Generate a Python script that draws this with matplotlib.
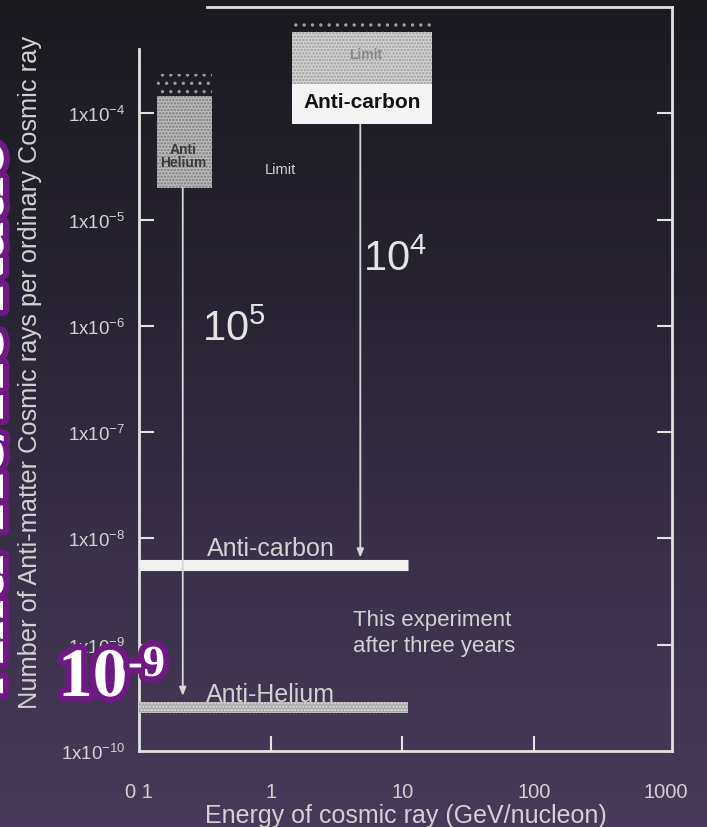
import matplotlib.pyplot as plt
import matplotlib.patheffects as pe
from matplotlib.colors import LinearSegmentedColormap
from matplotlib.ticker import NullLocator
import numpy as np

plt.rcParams['font.family'] = ['Liberation Sans', 'DejaVu Sans']
plt.rcParams['mathtext.fontset'] = 'custom'
plt.rcParams['mathtext.rm'] = 'Liberation Sans'
plt.rcParams['mathtext.it'] = 'Liberation Sans:italic'
plt.rcParams['mathtext.bf'] = 'Liberation Sans:bold'
plt.rcParams['hatch.linewidth'] = 1.2

# axis ticks
x_ticks = [0.1, 1, 10, 100, 1000]
x_tick_labels = ['0 1', '1', '10', '100', '1000']
y_ticks = [1e-10, 1e-9, 1e-8, 1e-7, 1e-6, 1e-5, 1e-4]
y_tick_labels = [r'1x10$^{-10}$', r'1x10$^{-9}$', r'1x10$^{-8}$', r'1x10$^{-7}$',
                 r'1x10$^{-6}$', r'1x10$^{-5}$', r'1x10$^{-4}$']

# this experiment after three years (energy span and sensitivity)
energy_span = [0.1, 11]
carbon_sens = 5.6e-9
helium_band = [2.3e-10, 2.9e-10]

# previous limits
helium_limit_x = [0.137, 0.36]
helium_limit_y = [2.0e-5, 1.45e-4]
carbon_limit_x = [1.46, 16.7]
carbon_limit_y = [8.0e-5, 1.87e-4, 5.8e-4]   # bottom, split white/grey, top

# improvement arrows: x, start, end
helium_arrow = [0.215, 2.0e-5, 3.3e-10]
carbon_arrow = [4.8, 8.0e-5, 6.6e-9]

line_col = '#e2e2e2'
text_col = '#d2d2d2'

fig = plt.figure(figsize=(7.07, 8.28), dpi=100)

# slide background
bg = fig.add_axes([0, 0, 1, 1], zorder=-10)
grad = np.linspace(0, 1, 256).reshape(-1, 1)
cmap = LinearSegmentedColormap.from_list('bg', ['#1b1a1f', '#262230', '#3a3048', '#483a58'])
bg.imshow(grad, aspect='auto', cmap=cmap, extent=[0, 1, 0, 1], origin='upper')
bg.axis('off')

ax = fig.add_axes([139 / 707, 76 / 828, 533 / 707, 744 / 828])
ax.set_facecolor('none')
ax.set_xscale('log')
ax.set_yscale('log')
ax.set_xlim(0.1, 1120)
ax.set_ylim(1e-10, 1e-3)

for s in ax.spines.values():
    s.set_color(line_col)
    s.set_linewidth(2)
ax.spines['left'].set_bounds(1e-10, 4e-4)
ax.spines['top'].set_bounds(0.33, 1120)

ax.set_xticks(x_ticks)
ax.set_xticklabels(x_tick_labels)
ax.set_yticks(y_ticks)
ax.set_yticklabels(y_tick_labels)
ax.xaxis.set_minor_locator(NullLocator())
ax.yaxis.set_minor_locator(NullLocator())
ax.tick_params(direction='in', length=11, width=1.5, color=line_col, labelcolor=text_col)
ax.tick_params(axis='y', right=True, pad=10, labelsize=13.5)
ax.tick_params(axis='x', pad=22, labelsize=14.5)
for t in (ax.xaxis.get_major_ticks()[0], ax.xaxis.get_major_ticks()[-1]):
    t.tick1line.set_visible(False)
ax.yaxis.get_major_ticks()[0].tick1line.set_visible(False)
ax.yaxis.get_major_ticks()[0].tick2line.set_visible(False)

# sensitivity of this experiment
ax.plot(energy_span, [carbon_sens, carbon_sens], color='#f2f2f2', lw=8,
        solid_capstyle='butt', zorder=3)
ax.fill_between(energy_span, helium_band[0], helium_band[1], facecolor='#a6a6a6',
                edgecolor='#e0e0e0', hatch='.....', linewidth=0, zorder=3)

# previous limit boxes
ax.fill_between(helium_limit_x, helium_limit_y[0], helium_limit_y[1], facecolor='#bcbcbc',
                edgecolor='#7a7a7a', hatch='.....', linewidth=0, zorder=3)
ax.fill_between(helium_limit_x, helium_limit_y[1], helium_limit_y[1] * 1.6, facecolor='none',
                edgecolor='#9a9a9a', hatch='. .', linewidth=0, zorder=3)
ax.fill_between(carbon_limit_x, carbon_limit_y[0], carbon_limit_y[1], facecolor='#f4f4f4',
                linewidth=0, zorder=3)
ax.fill_between(carbon_limit_x, carbon_limit_y[1], carbon_limit_y[2], facecolor='#d2d2d2',
                edgecolor='#9c9c9c', hatch='.....', linewidth=0, zorder=3)
ax.fill_between(carbon_limit_x, carbon_limit_y[2], carbon_limit_y[2] * 1.25, facecolor='none',
                edgecolor='#a0a0a0', hatch='. .', linewidth=0, zorder=3)

for xa, y0, y1 in (helium_arrow, carbon_arrow):
    ax.annotate('', xy=(xa, y1), xytext=(xa, y0),
                arrowprops=dict(arrowstyle='-|>,head_length=0.5,head_width=0.2',
                                color='#d6d6d6', lw=1.3, shrinkA=0, shrinkB=0), zorder=4)

# texts inside the plot
ax.text(0.215, 4.0e-5, 'Anti\nHelium', ha='center', va='center', fontsize=10,
        fontweight='bold', color='#3a3a3a', linespacing=0.95, zorder=5)
ax.text(4.95, 1.3e-4, 'Anti-carbon', ha='center', va='center', fontsize=15,
        fontweight='bold', color='#111111', zorder=5)
ax.text(5.3, 3.6e-4, 'Limit', ha='center', va='center', fontsize=10,
        fontweight='bold', color='#8a8a8a', zorder=5)
ax.text(1.18, 2.97e-5, 'Limit', ha='center', va='center', fontsize=10.5, color=text_col)
ax.text(0.3, 9.4e-7, r'10$^{5}$', ha='left', va='center', fontsize=30, color='#e4e4e4')
ax.text(5.0, 4.3e-6, r'10$^{4}$', ha='left', va='center', fontsize=30, color='#e4e4e4')
ax.text(1.0, 8.05e-9, 'Anti-carbon', ha='center', va='center', fontsize=18, color=text_col)
ax.text(1.0, 3.45e-10, 'Anti-Helium', ha='center', va='center', fontsize=18, color=text_col)
ax.text(4.24, 1.3e-9, 'This experiment\nafter three years', ha='left', va='center',
        fontsize=16, color=text_col, linespacing=1.3)

ax.set_xlabel('Energy of cosmic ray (GeV/nucleon)', fontsize=18, color=text_col, labelpad=2)
fig.text(30 / 707, 1 - 372 / 828, 'Number of Anti-matter Cosmic rays per ordinary Cosmic ray',
         rotation=90, ha='center', va='center', fontsize=18.3, color=text_col)

# slide overlays
glow = [pe.withStroke(linewidth=9, foreground='#6e1a82')]
fig.text(58 / 707, 1 - 697 / 828, '10', ha='left', va='baseline', fontsize=50,
         family='Liberation Serif', fontweight='bold', color='white', path_effects=glow)
fig.text(128 / 707, 1 - 677 / 828, '-9', ha='left', va='baseline', fontsize=32,
         family='Liberation Serif', fontweight='bold', color='white', path_effects=glow)
fig.text(3 / 707, 1 - 418 / 828, 'Anti-He/He Ratio', rotation=90, rotation_mode='anchor',
         ha='center', va='baseline', fontsize=53, family='Liberation Serif',
         fontweight='bold', color='white', path_effects=glow)

fig.savefig('out.png', dpi=100)
